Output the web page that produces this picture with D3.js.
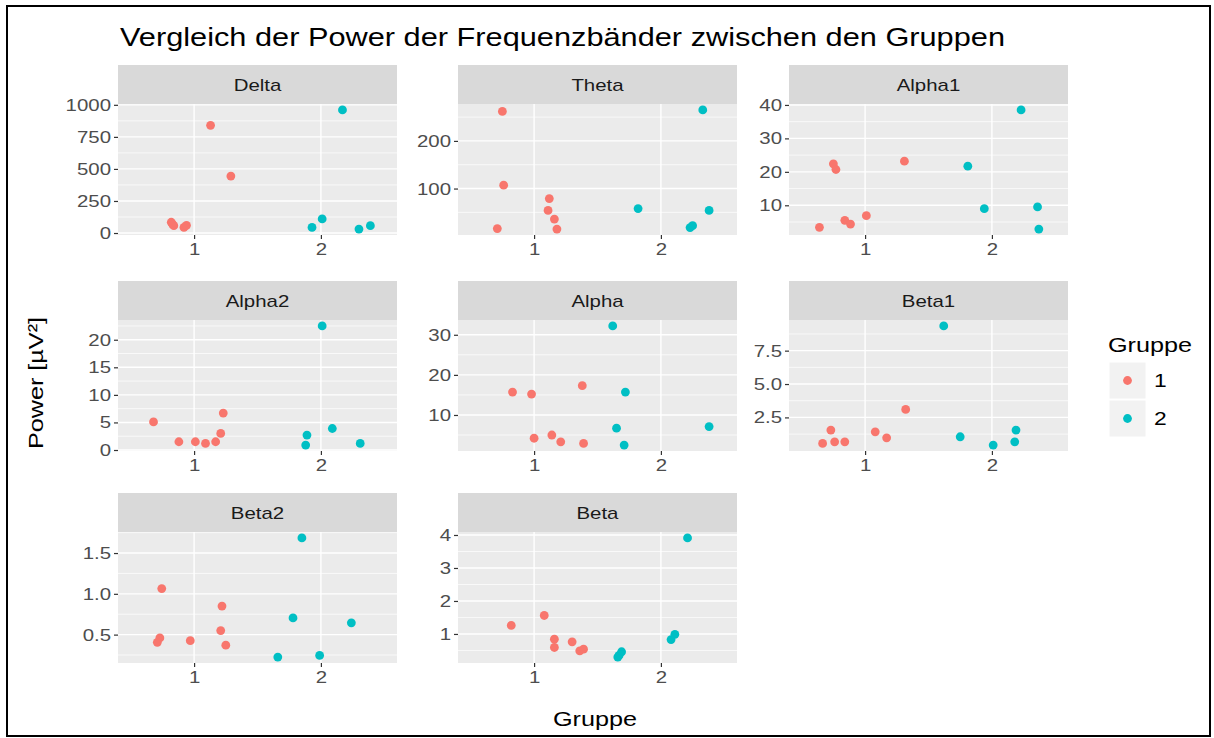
<!DOCTYPE html>
<html>
<head>
<meta charset="utf-8">
<script src="https://cdn.jsdelivr.net/npm/d3@7"></script>
<style>
  body { margin: 0; background: #fff; }
  text { font-family: "Liberation Sans", Arial, sans-serif; }
</style>
</head>
<body>
<div class="chart"></div>
<script>
// frequency bands (facets)
let bands = ["Delta", "Theta", "Alpha1", "Alpha2", "Alpha", "Beta1", "Beta2", "Beta"];

// jittered [x, power] per group
let delta1 = [[1.13, 840], [1.29, 444], [0.82, 84], [0.84, 57], [0.92, 44], [0.94, 60], [0.83, 70]];
let delta2 = [[2.17, 960], [2.01, 110], [1.93, 44], [2.30, 31], [2.39, 57]];
let theta1 = [[0.75, 262], [0.76, 107], [0.71, 16], [1.12, 79], [1.11, 54], [1.16, 36], [1.18, 15]];
let theta2 = [[2.33, 265], [1.82, 58], [2.38, 54], [2.23, 18], [2.25, 22]];
let alpha1_1 = [[0.64, 3.4], [0.75, 22.4], [0.77, 20.7], [0.84, 5.5], [0.885, 4.4], [1.01, 6.9], [1.31, 23.2]];
let alpha1_2 = [[2.23, 38.5], [1.81, 21.7], [1.94, 9.0], [2.36, 9.5], [2.37, 2.9]];
let alpha2_1 = [[0.68, 5.1], [0.88, 1.5], [1.01, 1.5], [1.09, 1.2], [1.17, 1.5], [1.21, 3.0], [1.23, 6.7]];
let alpha2_2 = [[2.01, 22.5], [1.89, 2.7], [1.88, 0.9], [2.09, 3.9], [2.31, 1.2]];
let alpha_1 = [[0.83, 15.7], [0.98, 15.2], [1.38, 17.3], [1.0, 4.2], [1.14, 5.0], [1.21, 3.3], [1.39, 2.9]];
let alpha_2 = [[1.62, 32.2], [1.72, 15.7], [1.65, 6.7], [1.71, 2.5], [2.38, 7.1]];
let beta1_1 = [[0.665, 0.55], [0.73, 1.55], [0.76, 0.67], [0.84, 0.67], [1.08, 1.42], [1.17, 0.97], [1.32, 3.1]];
let beta1_2 = [[1.62, 9.35], [1.75, 1.05], [2.01, 0.43], [2.18, 0.67], [2.19, 1.55]];
let beta2_1 = [[0.745, 1.064], [0.73, 0.46], [0.71, 0.405], [0.97, 0.426], [1.22, 0.85], [1.21, 0.55], [1.25, 0.37]];
let beta2_2 = [[1.85, 1.685], [1.78, 0.705], [2.24, 0.644], [1.66, 0.225], [1.99, 0.245]];
let beta_1 = [[0.82, 1.26], [1.08, 1.56], [1.16, 0.84], [1.16, 0.59], [1.30, 0.76], [1.36, 0.49], [1.39, 0.54]];
let beta_2 = [[2.21, 3.91], [2.08, 0.83], [2.11, 0.99], [1.67, 0.35], [1.69, 0.46], [1.66, 0.30]];

// y tick labels per facet
let deltaTicks = [0, 250, 500, 750, 1000];
let thetaTicks = [100, 200];
let alpha1Ticks = [10, 20, 30, 40];
let alpha2Ticks = [0, 5, 10, 15, 20];
let alphaTicks = [10, 20, 30];
let beta1Ticks = [2.5, 5.0, 7.5];
let beta2Ticks = [0.5, 1.0, 1.5];
let betaTicks = [1, 2, 3, 4];
let tickFormats = ["d", "d", "d", "d", "d", ".1f", ".1f", "d"];

let groups = ["1", "2"];
let colors = ["#F8766D", "#00BFC4"];

let points = [[delta1, delta2], [theta1, theta2], [alpha1_1, alpha1_2], [alpha2_1, alpha2_2],
    [alpha_1, alpha_2], [beta1_1, beta1_2], [beta2_1, beta2_2], [beta_1, beta_2]];
let ticks = [deltaTicks, thetaTicks, alpha1Ticks, alpha2Ticks, alphaTicks, beta1Ticks, beta2Ticks, betaTicks];

let w = 1214;
let h = 738;
let wide = 1.2; // the original font runs wider than Liberation Sans

// stretch text along its direction
function stretch(sel, f) {
    sel.each(function () {
        let len = this.getComputedTextLength();
        d3.select(this)
            .attr("textLength", len * f)
            .attr("lengthAdjust", "spacingAndGlyphs");
    });
}

let svg = d3.select(".chart")
    .append("svg")
    .attr("width", w)
    .attr("height", h);

svg.append("rect")
    .attr("x", 7).attr("y", 6)
    .attr("width", 1203).attr("height", 730)
    .attr("fill", "#fff")
    .attr("stroke", "#000")
    .attr("stroke-width", 2);

svg.append("text")
    .attr("x", 120).attr("y", 46)
    .attr("font-size", 26)
    .attr("fill", "#000")
    .attr("textLength", 885)
    .attr("lengthAdjust", "spacingAndGlyphs")
    .text("Vergleich der Power der Frequenzbänder zwischen den Gruppen");

let colX = [118, 458, 789];
let rowY = [65, 281, 493];
let pw = 279;
let stripH = 39;
let ph = 131;

let x = d3.scaleLinear().domain([0.4, 2.6]).range([0, pw]);

bands.forEach(function (band, i) {
    let col = i % 3;
    let row = Math.floor(i / 3);
    let g = svg.append("g")
        .attr("transform", "translate(" + colX[col] + "," + rowY[row] + ")");

    // strip
    g.append("rect")
        .attr("width", pw).attr("height", stripH)
        .attr("fill", "#D9D9D9");
    g.append("text")
        .attr("x", pw / 2).attr("y", stripH / 2 + 6)
        .attr("text-anchor", "middle")
        .attr("font-size", 17)
        .attr("fill", "#1A1A1A")
        .text(band)
        .call(stretch, wide);

    let p = g.append("g").attr("transform", "translate(0," + stripH + ")");
    p.append("rect")
        .attr("width", pw).attr("height", ph)
        .attr("fill", "#EBEBEB");

    let all = points[i][0].concat(points[i][1]);
    let ext = d3.extent(all, function (d) { return d[1]; });
    let pad = (ext[1] - ext[0]) * 0.05;
    let y = d3.scaleLinear().domain([ext[0] - pad, ext[1] + pad]).range([ph, 0]);

    // minor grid: midpoints between breaks
    let t = ticks[i];
    let step = t[1] - t[0];
    let minor = [];
    for (let k = -1; k < t.length; k++) {
        let m = t[0] + step * (k + 0.5);
        if (m > y.domain()[0] && m < y.domain()[1]) minor.push(m);
    }
    p.selectAll(".minor")
        .data(minor)
        .enter().append("line")
        .attr("x1", 0).attr("x2", pw)
        .attr("y1", function (d) { return y(d); })
        .attr("y2", function (d) { return y(d); })
        .attr("stroke", "#fff")
        .attr("stroke-width", 0.7);
    p.selectAll(".major")
        .data(t)
        .enter().append("line")
        .attr("x1", 0).attr("x2", pw)
        .attr("y1", function (d) { return y(d); })
        .attr("y2", function (d) { return y(d); })
        .attr("stroke", "#fff")
        .attr("stroke-width", 1.4);
    p.selectAll(".vmajor")
        .data([1, 2])
        .enter().append("line")
        .attr("y1", 0).attr("y2", ph)
        .attr("x1", function (d) { return x(d); })
        .attr("x2", function (d) { return x(d); })
        .attr("stroke", "#fff")
        .attr("stroke-width", 1.4);

    // axes
    let ya = p.append("g")
        .call(d3.axisLeft(y).tickValues(t).tickSize(4).tickPadding(3).tickFormat(d3.format(tickFormats[i])));
    let xa = p.append("g")
        .attr("transform", "translate(0," + ph + ")")
        .call(d3.axisBottom(x).tickValues([1, 2]).tickSize(4).tickPadding(4).tickFormat(d3.format("d")));
    [ya, xa].forEach(function (a) {
        a.select(".domain").remove();
        a.selectAll("line").attr("stroke", "#333").attr("stroke-width", 1.2);
        a.selectAll("text")
            .attr("fill", "#4D4D4D")
            .attr("font-size", 17)
            .attr("font-family", "Liberation Sans, Arial, sans-serif")
            .call(stretch, wide);
    });

    points[i].forEach(function (pts, gi) {
        p.selectAll(".pt" + gi)
            .data(pts)
            .enter().append("circle")
            .attr("cx", function (d) { return x(d[0]); })
            .attr("cy", function (d) { return y(d[1]); })
            .attr("r", 4.4)
            .attr("fill", colors[gi]);
    });
});

// axis titles
svg.append("text")
    .attr("x", 595).attr("y", 726)
    .attr("text-anchor", "middle")
    .attr("font-size", 21)
    .attr("fill", "#000")
    .text("Gruppe")
    .call(stretch, wide);
svg.append("text")
    .attr("transform", "translate(43,383) rotate(-90)")
    .attr("text-anchor", "middle")
    .attr("font-size", 21)
    .attr("fill", "#000")
    .text("Power [µV²]")
    .call(stretch, wide);

// legend
let leg = svg.append("g").attr("transform", "translate(1108,352)");
leg.append("text")
    .attr("x", 0).attr("y", 0)
    .attr("font-size", 21)
    .attr("fill", "#000")
    .text("Gruppe")
    .call(stretch, wide);
leg.selectAll(".key")
    .data(groups)
    .enter().append("rect")
    .attr("x", 1)
    .attr("y", function (d, k) { return 10 + k * 38; })
    .attr("width", 37).attr("height", 37)
    .attr("fill", "#F2F2F2")
    .attr("stroke", "#fff");
leg.selectAll(".kpt")
    .data(groups)
    .enter().append("circle")
    .attr("cx", 19.5)
    .attr("cy", function (d, k) { return 28.5 + k * 38; })
    .attr("r", 4.4)
    .attr("fill", function (d, k) { return colors[k]; });
leg.selectAll(".klab")
    .data(groups)
    .enter().append("text")
    .attr("x", 46)
    .attr("y", function (d, k) { return 35 + k * 38; })
    .attr("font-size", 19)
    .attr("fill", "#000")
    .text(function (d) { return d; })
    .call(stretch, wide);
</script>
</body>
</html>
